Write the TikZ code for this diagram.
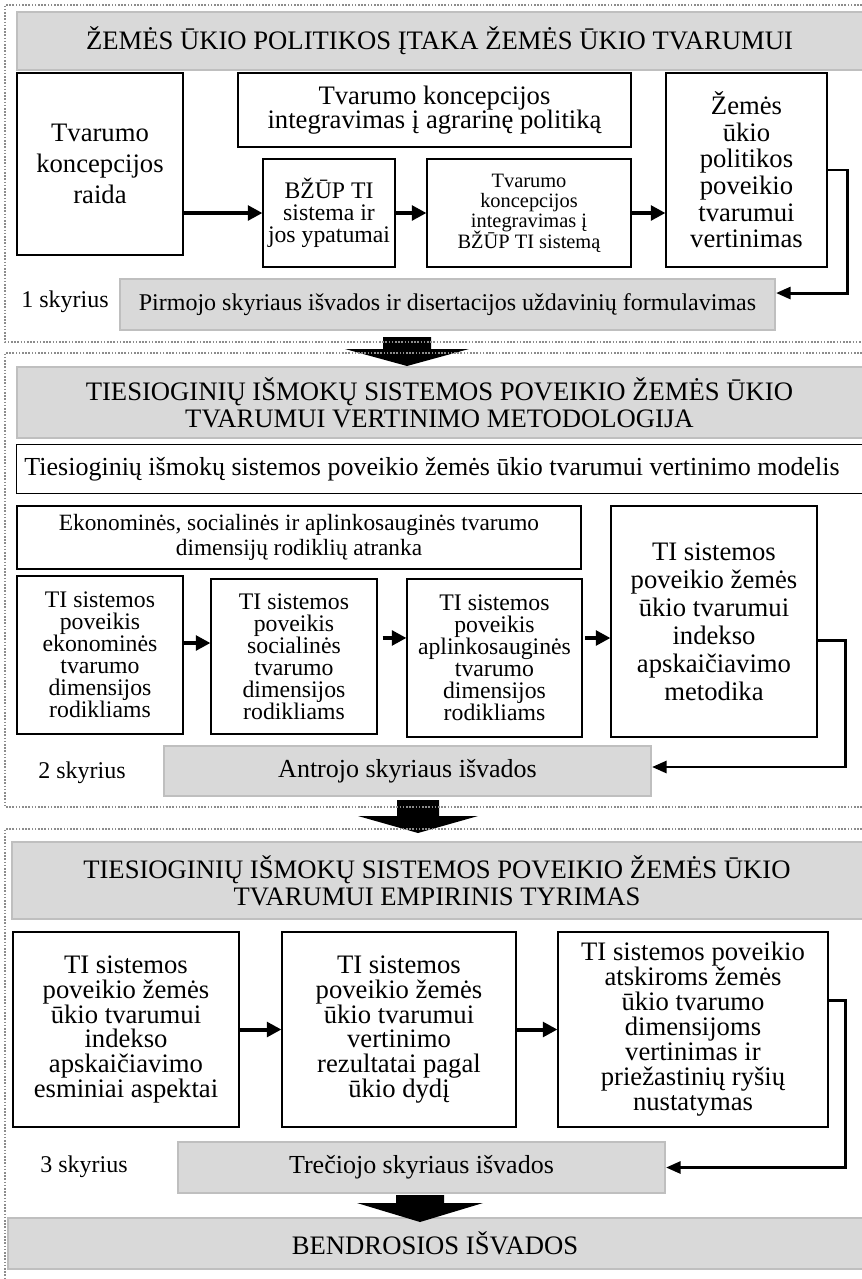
\documentclass[tikz,border=0pt]{standalone}
\usepackage{fontspec}
\setmainfont{Liberation Serif}
\usetikzlibrary{arrows.meta}
\definecolor{gfill}{HTML}{D9D9D9}
\definecolor{gline}{HTML}{BFBFBF}
\definecolor{fline}{HTML}{8C8C8C}
\newcommand\fsz[2]{\fontsize{#1}{#2}\selectfont\lineskiplimit=-100pt\relax}
\begin{document}
\begin{tikzpicture}[x=0.75pt,y=-0.75pt,
  bx/.style n args={4}{at={({(#1+#3)/2},{(#2+#4)/2})}, anchor=center,
     minimum width={(#3-#1)*0.75pt}, minimum height={(#4-#2)*0.75pt}},
  box/.style={draw=black, line width=0.8pt, fill=white, inner sep=0pt, align=center},
  gbox/.style={draw=gline, fill=gfill, line width=1.5pt, inner sep=0pt, align=center},
  gfillonly/.style={fill=gfill, inner sep=0pt, align=center},
  gborder/.style={draw=gline, line width=1.5pt},
  wborder/.style={draw=black, line width=0.8pt},
  frame/.style={draw=fline, line width=1.5pt, dash pattern=on 1.2pt off 1.2pt},
  conn/.style={draw, line width=2.2pt, -{Triangle[length=11pt,width=9pt]}},
  sarr/.style={draw, line width=3pt, -{Triangle[length=11pt,width=11pt]}},
  bigarrow/.style={fill=black},
  lbl/.style={inner sep=0pt, font=\fsz{18}{20}}
]
\useasboundingbox (0,0) rectangle (862,1279);

% ---------------- Section 1 ----------------
\node[gfillonly, bx={17}{12}{862}{70}, font=\fsz{20}{20}] (h1) {ŽEMĖS ŪKIO POLITIKOS ĮTAKA ŽEMĖS ŪKIO TVARUMUI};
\draw[gborder] (h1.north east) -- (h1.north west) -- (h1.south west) -- (h1.south east);

\node[box, bx={17}{73}{183}{255}, font=\fsz{20}{23}] (raida) {Tvarumo\\koncepcijos\\raida};
\node[box, bx={238}{73}{631}{147}, font=\fsz{20}{18.5}] (agrar) {Tvarumo koncepcijos\\integravimas į agrarinę politiką};
\node[box, bx={263}{159}{395}{267}, font=\fsz{17.8}{16.5}] (bzup) {BŽŪP TI\\sistema ir\\jos ypatumai};
\node[box, bx={427}{159}{631}{267}, font=\fsz{15.3}{15.3}] (integr) {Tvarumo\\koncepcijos\\integravimas į\\BŽŪP TI sistemą};
\node[box, bx={666}{73}{827}{267}, font=\fsz{20}{20}] (zemes) {Žemės\\ūkio\\politikos\\poveikio\\tvarumui\\vertinimas};
\node[gbox, bx={120}{279}{775}{330}, font=\fsz{18}{20}] (pirm) {Pirmojo skyriaus išvados ir disertacijos uždavinių formulavimas};
\node[lbl, anchor=west] (sk1) at (21,302) {1 skyrius};

\draw[sarr] (raida.east |- bzup.west) -- (bzup.west);
\draw[sarr] (bzup.east) -- (integr.west);
\draw[sarr] (integr.east) -- (integr.east -| zemes.west);
\draw[conn] (zemes.east) -- ++(20,0) |- ([yshift=8.6pt]pirm.east);

% ---------------- Section 2 ----------------
\node[gfillonly, bx={17}{367}{862}{438}, font=\fsz{20}{20}] (h2) {TIESIOGINIŲ IŠMOKŲ SISTEMOS POVEIKIO ŽEMĖS ŪKIO\\TVARUMUI VERTINIMO METODOLOGIJA};
\draw[gborder] (h2.north east) -- (h2.north west) -- (h2.south west) -- (h2.south east);

\node[fill=white, inner sep=0pt, bx={17}{445}{847}{493}, font=\fsz{19.5}{20}] (model) {Tiesioginių išmokų sistemos poveikio žemės ūkio tvarumui vertinimo modelis};
\draw[wborder] (model.north west) ++(845,0) -- (model.north west) -- (model.south west) -- ++(845,0);

\node[box, bx={17}{506}{581}{569}, font=\fsz{17.5}{18.75}] (ekon) {Ekonominės, socialinės ir aplinkosauginės tvarumo\\dimensijų rodiklių atranka};
\node[box, bx={17}{576}{183}{734}, font=\fsz{17.8}{16.5}] (ti1) {TI sistemos\\poveikis\\ekonominės\\tvarumo\\dimensijos\\rodikliams};
\node[box, bx={211}{579}{377}{734}, font=\fsz{17.8}{16.5}] (ti2) {TI sistemos\\poveikis\\socialinės\\tvarumo\\dimensijos\\rodikliams};
\node[box, bx={407}{579}{582}{737}, font=\fsz{17.8}{16.5}] (ti3) {TI sistemos\\poveikis\\aplinkosauginės\\tvarumo\\dimensijos\\rodikliams};
\node[box, bx={611}{506}{817}{737}, font=\fsz{20}{21}] (ti4) {TI sistemos\\poveikio žemės\\ūkio tvarumui\\indekso\\apskaičiavimo\\metodika};
\node[gbox, bx={164}{746}{651}{796}, font=\fsz{19.5}{20}] (antr) {Antrojo skyriaus išvados};
\node[lbl, anchor=west] (sk2) at (38,773) {2 skyrius};

\coordinate (a1) at ([yshift=9pt]ti1.east);
\draw[sarr] (a1) -- (a1 -| ti2.west);
\coordinate (a2) at ([yshift=13.9pt,xshift=3.75pt]ti2.east);
\draw[sarr] (a2) -- (a2 -| ti3.west);
\coordinate (a3) at ([yshift=15pt,xshift=2pt]ti3.east);
\draw[sarr] (a3) -- (a3 -| ti4.west);
\draw[conn] ([yshift=-13.9pt]ti4.east) -- ++(28,0) |- ([yshift=3pt]antr.east);

% ---------------- Section 3 ----------------
\node[gfillonly, bx={12}{842}{862}{919}, font=\fsz{20}{20}] (h3) {TIESIOGINIŲ IŠMOKŲ SISTEMOS POVEIKIO ŽEMĖS ŪKIO\\TVARUMUI EMPIRINIS TYRIMAS};
\draw[gborder] (h3.north east) -- (h3.north west) -- (h3.south west) -- (h3.south east);

\node[box, bx={13}{932}{239}{1127}, font=\fsz{20}{18.5}] (ea) {TI sistemos\\poveikio žemės\\ūkio tvarumui\\indekso\\apskaičiavimo\\esminiai aspektai};
\node[box, bx={282}{932}{516}{1127}, font=\fsz{20}{18.5}] (eb) {TI sistemos\\poveikio žemės\\ūkio tvarumui\\vertinimo\\rezultatai pagal\\ūkio dydį};
\node[box, bx={558}{932}{828}{1127}, font=\fsz{20}{18.75}] (ec) {TI sistemos poveikio\\atskiroms žemės\\ūkio tvarumo\\dimensijoms\\vertinimas ir\\priežastinių ryšių\\nustatymas};
\node[gbox, bx={178}{1142}{665}{1193}, font=\fsz{19.5}{20}] (trec) {Trečiojo skyriaus išvados};
\node[lbl, anchor=west] (sk3) at (40,1167) {3 skyrius};

\draw[sarr] (ea.east) -- (eb.west);
\draw[sarr] (eb.east) -- (ec.west);
\draw[conn] ([yshift=22.1pt]ec.east) -- ++(17,0) |- (trec.east);

\node[gfillonly, bx={8}{1218}{862}{1269}, font=\fsz{20}{20}] (bendr) {BENDROSIOS IŠVADOS};
\draw[gborder] (bendr.north east) -- (bendr.north west) -- (bendr.south west) -- (bendr.south east);

% ---------------- big arrows ----------------
\fill[bigarrow] (383,337) -- (431,337) -- (431,349) -- (469,349) -- (407,366) -- (345,349) -- (383,349) -- cycle;
\fill[bigarrow] (397,800) -- (439,800) -- (439,816) -- (478,816) -- (418,833) -- (358,816) -- (397,816) -- cycle;
\fill[bigarrow] (396,1195) -- (444,1195) -- (444,1203) -- (483,1203) -- (420,1222) -- (357,1203) -- (396,1203) -- cycle;

% ---------------- dotted frames ----------------
\draw[frame] (862,5) -- (5,5) -- (5,342) -- (862,342);
\draw[frame] (862,353) -- (5,353) -- (5,807) -- (862,807);
\draw[frame] (862,829) -- (5,829) -- (5,1279);
\end{tikzpicture}
\end{document}
